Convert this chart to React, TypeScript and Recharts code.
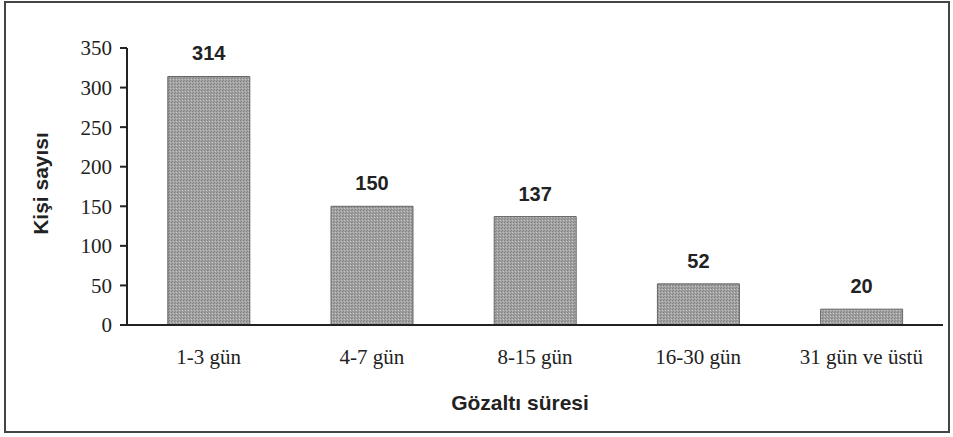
import { BarChart, Bar, XAxis, YAxis, LabelList } from 'recharts'

const categories = ['1-3 gün', '4-7 gün', '8-15 gün', '16-30 gün', '31 gün ve üstü']
const counts = [314, 150, 137, 52, 20]
const yTicks = [0, 50, 100, 150, 200, 250, 300, 350]

const data = categories.map((period, i) => ({ period, count: counts[i] }))

const serif = '"Liberation Serif", "Times New Roman", serif'
const sans = '"Liberation Sans", Arial, sans-serif'

export default function App() {
  return (
    <div style={{ position: 'absolute', left: 0, top: 0, width: 953, height: 437, background: '#fff' }}>
      <BarChart
        width={953}
        height={437}
        data={data}
        margin={{ top: 48, right: 10, bottom: 0, left: 0 }}
        barCategoryGap="25%"
      >
        <defs>
          <pattern id="dots" width="3" height="3" patternUnits="userSpaceOnUse">
            <rect width="3" height="3" fill="#a2a2a2" />
            <rect x="0" y="0" width="1" height="1" fill="#7e7e7e" />
            <rect x="2" y="1" width="1" height="1" fill="#c4c4c4" />
            <rect x="1" y="2" width="1" height="1" fill="#8a8a8a" />
          </pattern>
        </defs>
        <XAxis
          dataKey="period"
          height={112}
          stroke="#222"
          strokeWidth={2}
          tickLine={false}
          tickMargin={18}
          tick={{ fill: '#222', fontSize: 21, fontFamily: serif }}
          label={{
            value: 'Gözaltı süresi',
            position: 'insideTop',
            dx: -15,
            dy: 65,
            fill: '#222',
            fontSize: 21,
            fontWeight: 'bold',
            fontFamily: sans,
          }}
        />
        <YAxis
          width={127}
          domain={[0, 350]}
          ticks={yTicks}
          interval={0}
          stroke="#222"
          strokeWidth={2}
          tickSize={7}
          tickMargin={8}
          tick={{ fill: '#222', fontSize: 21, fontFamily: serif }}
          label={{
            value: 'Kişi sayısı',
            angle: -90,
            position: 'insideLeft',
            dx: 36,
            dy: -3,
            fill: '#222',
            fontSize: 21,
            fontWeight: 'bold',
            fontFamily: sans,
            style: { textAnchor: 'middle' },
          }}
        />
        <Bar dataKey="count" fill="url(#dots)" stroke="#666" strokeWidth={1} isAnimationActive={false}>
          <LabelList
            dataKey="count"
            position="top"
            offset={16}
            fill="#222"
            fontSize={20}
            fontWeight="bold"
            fontFamily={sans}
          />
        </Bar>
      </BarChart>
      <div
        style={{
          position: 'absolute',
          left: 4,
          top: 1,
          width: 942,
          height: 428,
          border: '2px solid #444',
          pointerEvents: 'none',
        }}
      />
    </div>
  )
}
